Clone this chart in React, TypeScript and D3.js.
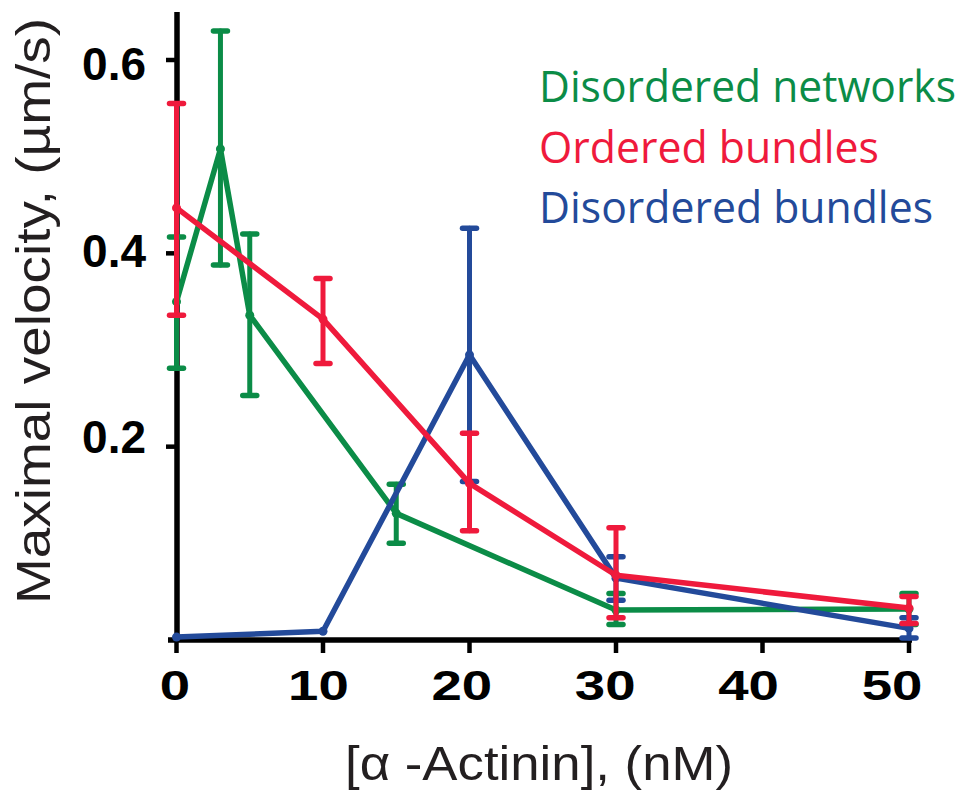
import React from "react";
import * as d3 from "d3";

// ---- Data ----
const netX = [0, 3, 5, 15, 30, 50];
const netMean = [0.35, 0.508, 0.336, 0.131, 0.031, 0.032];
const netHi = [0.417, 0.63, 0.42, 0.161, 0.048, 0.048];
const netLo = [0.281, 0.388, 0.253, 0.1, 0.016, 0.016];

const ordX = [0, 10, 20, 30, 50];
const ordMean = [0.447, 0.332, 0.162, 0.067, 0.033];
const ordHi = [0.555, 0.374, 0.214, 0.116, 0.045];
const ordLo = [0.336, 0.286, 0.113, 0.023, 0.017];

const disX = [0, 10, 20, 30, 50];
const disMean = [0.003, 0.009, 0.295, 0.064, 0.012];
const disHi: (number | null)[] = [null, null, 0.426, 0.086, 0.023];
const disLo: (number | null)[] = [null, null, 0.164, 0.041, 0.002];

const xTicks = [0, 10, 20, 30, 40, 50];
const yTicks = [0.2, 0.4, 0.6];
const yTickLabels = ["0.2", "0.4", "0.6"];

const legendLabels = ["Disordered networks", "Ordered bundles", "Disordered bundles"];

const GREEN = "#0b8c47";
const RED = "#ef1a3c";
const BLUE = "#234a9a";

type Series = {
  xs: number[];
  mean: number[];
  hi: (number | null)[];
  lo: (number | null)[];
  color: string;
};

const seriesList: Series[] = [
  { xs: netX, mean: netMean, hi: netHi, lo: netLo, color: GREEN },
  { xs: disX, mean: disMean, hi: disHi, lo: disLo, color: BLUE },
  { xs: ordX, mean: ordMean, hi: ordHi, lo: ordLo, color: RED },
];

export default function App() {
  const x = d3.scaleLinear().domain([0, 50]).range([176.5, 909]);
  const y = d3.scaleLinear().domain([0, 0.6]).range([640, 60]);
  // label placement scales (labels in the figure drift slightly from ticks)
  const xLab = d3.scaleLinear().domain([0, 50]).range([175, 892]);
  const yLab = d3.scaleLinear().domain([0.2, 0.6]).range([436.5, 63.5]);

  const line = d3
    .line<[number, number]>()
    .x((d) => x(d[0]))
    .y((d) => y(d[1]));

  const capW = 7;

  return (
    <div style={{ position: "absolute", left: 0, top: 0 }}>
      <svg width={968} height={792} style={{ display: "block", background: "#fff" }}>
        {/* Axes */}
        <line x1={177} x2={177} y1={12} y2={642} stroke="#000" strokeWidth={5.5} />
        <line x1={168} x2={912} y1={640} y2={640} stroke="#000" strokeWidth={5.5} />
        {yTicks.map((t) => (
          <line key={"yt" + t} x1={166} x2={177} y1={y(t)} y2={y(t)} stroke="#000" strokeWidth={4.5} />
        ))}
        {xTicks.map((t) => (
          <line key={"xt" + t} x1={x(t)} x2={x(t)} y1={640} y2={653} stroke="#000" strokeWidth={4.5} />
        ))}
        {yTicks.map((t, i) => (
          <text
            key={"yl" + t}
            x={146}
            y={yLab(t) + 16.5}
            textAnchor="end"
            fontFamily="Liberation Sans, Arial, sans-serif"
            fontWeight="bold"
            fontSize={46}
            fill="#000"
          >
            {yTickLabels[i]}
          </text>
        ))}
        {xTicks.map((t) => (
          <text
            key={"xl" + t}
            transform={`translate(${xLab(t)},700) scale(1.3,1)`}
            textAnchor="middle"
            fontFamily="Liberation Sans, Arial, sans-serif"
            fontWeight="bold"
            fontSize={42}
            fill="#000"
          >
            {t}
          </text>
        ))}

        {/* Axis titles */}
        <text
          x={345}
          y={780}
          textLength={388}
          lengthAdjust="spacingAndGlyphs"
          fontFamily="Liberation Sans, Arial, sans-serif"
          fontSize={48}
          fill="#231f20"
        >
          [α -Actinin], (nM)
        </text>
        <text
          transform="translate(50,604) rotate(-90)"
          textLength={586}
          lengthAdjust="spacingAndGlyphs"
          fontFamily="Liberation Sans, Arial, sans-serif"
          fontSize={48}
          fill="#231f20"
        >
          Maximal velocity, (µm/s)
        </text>

        {/* Series */}
        {seriesList.map((s, si) => {
          const pts: [number, number][] = s.xs.map((xv, i) => [xv, s.mean[i]]);
          return (
            <g key={"s" + si}>
              <path
                d={line(pts) || ""}
                fill="none"
                stroke={s.color}
                strokeWidth={5.5}
                strokeLinejoin="round"
              />
              {s.xs.map((xv, i) => {
                const hi = s.hi[i];
                const lo = s.lo[i];
                return (
                  <g key={"e" + i}>
                    {hi != null && lo != null && (
                      <g stroke={s.color} strokeLinecap="round">
                        <line x1={x(xv)} x2={x(xv)} y1={y(hi)} y2={y(lo)} strokeWidth={5} />
                        <line x1={x(xv) - capW} x2={x(xv) + capW} y1={y(hi)} y2={y(hi)} strokeWidth={5.5} />
                        <line x1={x(xv) - capW} x2={x(xv) + capW} y1={y(lo)} y2={y(lo)} strokeWidth={5.5} />
                      </g>
                    )}
                    <circle cx={x(xv)} cy={y(s.mean[i])} r={4.5} fill={s.color} />
                  </g>
                );
              })}
            </g>
          );
        })}

        {/* Legend */}
        {legendLabels.map((l, i) => {
          const colors = [GREEN, RED, BLUE];
          const widths = [417, 340, 394];
          const base = [102, 163, 223];
          return (
            <text
              key={"lg" + i}
              x={539}
              y={base[i]}
              textLength={widths[i]}
              lengthAdjust="spacingAndGlyphs"
              fontFamily="Open Sans, Noto Sans, sans-serif"
              fontSize={44}
              fill={colors[i]}
            >
              {l}
            </text>
          );
        })}
      </svg>
    </div>
  );
}
